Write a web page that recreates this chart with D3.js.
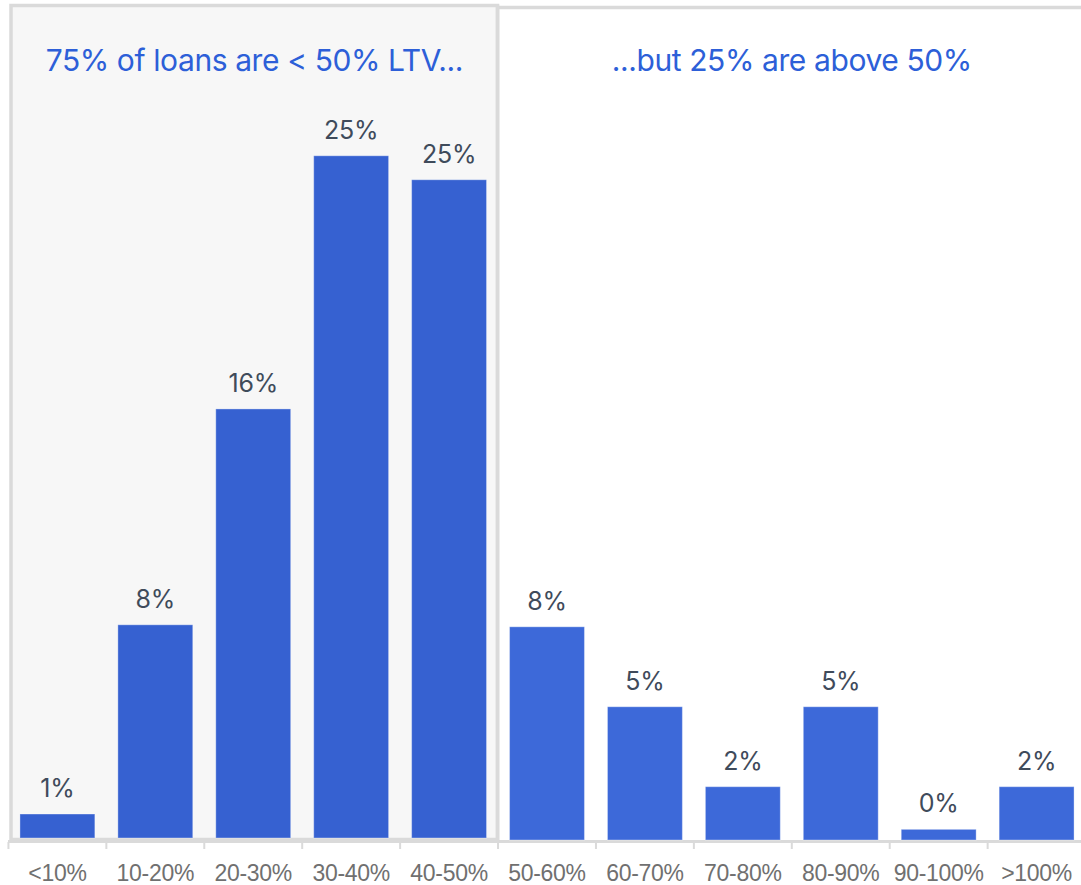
<!DOCTYPE html>
<html>
<head>
<meta charset="utf-8">
<script src="https://cdn.jsdelivr.net/npm/d3@7"></script>
<style>
  html, body { margin: 0; padding: 0; background: #ffffff; }
  svg { display: block; }
</style>
</head>
<body>
<svg id="chart" width="1081" height="885"></svg>
<script>
// ---- Data ----
const categories = ["<10%", "10-20%", "20-30%", "30-40%", "40-50%", "50-60%", "60-70%", "70-80%", "80-90%", "90-100%", ">100%"];
const values = [0.9, 8.0, 16.1, 25.6, 24.7, 8.0, 5.0, 2.0, 5.0, 0.4, 2.0];
const valueLabels = ["1%", "8%", "16%", "25%", "25%", "8%", "5%", "2%", "5%", "0%", "2%"];
const groups = ["low", "low", "low", "low", "low", "high", "high", "high", "high", "high", "high"];
const panelTitles = ["75% of loans are < 50% LTV...", "...but 25% are above 50%"];

// ---- Layout ----
const W = 1081, H = 885;
const svg = d3.select("#chart");

const x = d3.scaleBand()
  .domain(categories)
  .range([8, 1086])
  .paddingInner(0.235)
  .paddingOuter(0.122);

const step = x.step();
const boundary = c => x(c) - (step - x.bandwidth()) / 2;

const baseY = { low: 838, high: 840 };
const pxPerPct = 26.65;
const yLow = d3.scaleLinear().domain([0, 30]).range([baseY.low, baseY.low - 30 * pxPerPct]);
const yHigh = d3.scaleLinear().domain([0, 30]).range([baseY.high, baseY.high - 30 * pxPerPct]);
const yFor = g => (g === "low" ? yLow : yHigh);

const colors = { low: "#3661d1", high: "#3d69d9" };
const borderColor = "#dadada";

// split position between panels
const splitX = boundary(categories[groups.indexOf("high")]) - 0.5;

// Left panel (shaded)
svg.append("rect")
  .attr("x", 11).attr("y", 5.5)
  .attr("width", splitX - 11).attr("height", 839.5 - 5.5)
  .attr("fill", "#f7f7f7")
  .attr("stroke", borderColor)
  .attr("stroke-width", 3.5);

// Right panel top line
svg.append("line")
  .attr("x1", splitX).attr("x2", W)
  .attr("y1", 7.5).attr("y2", 7.5)
  .attr("stroke", borderColor).attr("stroke-width", 3.5);

// Axis baseline
svg.append("line")
  .attr("x1", 8).attr("x2", W)
  .attr("y1", 841.5).attr("y2", 841.5)
  .attr("stroke", borderColor).attr("stroke-width", 3);

// redraw divider on top of axis
svg.append("line")
  .attr("x1", splitX).attr("x2", splitX)
  .attr("y1", 5.5).attr("y2", 843)
  .attr("stroke", borderColor).attr("stroke-width", 3.5);

// Ticks at category boundaries
svg.append("g").selectAll("line")
  .data(categories)
  .join("line")
  .attr("x1", c => boundary(c)).attr("x2", c => boundary(c))
  .attr("y1", 842).attr("y2", 849)
  .attr("stroke", borderColor).attr("stroke-width", 2);

// Bars
const data = categories.map((c, i) => ({ c, v: values[i], label: valueLabels[i], g: groups[i] }));

svg.append("g").selectAll("rect")
  .data(data)
  .join("rect")
  .attr("x", d => x(d.c))
  .attr("width", x.bandwidth())
  .attr("y", d => yFor(d.g)(d.v))
  .attr("height", d => yFor(d.g)(0) - yFor(d.g)(d.v))
  .attr("fill", d => colors[d.g])
  .attr("stroke", "rgba(255,255,255,0.35)")
  .attr("stroke-width", 1);

// Value labels
svg.append("g").selectAll("text")
  .data(data)
  .join("text")
  .attr("x", d => x(d.c) + x.bandwidth() / 2)
  .attr("y", d => yFor(d.g)(d.v) - 17)
  .attr("text-anchor", "middle")
  .attr("font-family", "Inter, 'Noto Sans', sans-serif")
  .attr("font-size", 25)
  .attr("letter-spacing", -0.3)
  .attr("fill", "#3f4b5b")
  .text(d => d.label);

// Axis category labels
svg.append("g").selectAll("text")
  .data(categories)
  .join("text")
  .attr("x", c => x(c) + x.bandwidth() / 2)
  .attr("y", 881)
  .attr("text-anchor", "middle")
  .attr("font-family", "'Liberation Sans', Arial, sans-serif")
  .attr("font-size", 23)
  .attr("letter-spacing", -0.3)
  .attr("fill", "#707070")
  .text(c => c);

// Panel titles
const titleX = [(11 + splitX) / 2, (splitX + 1086) / 2];
svg.append("g").selectAll("text")
  .data(panelTitles)
  .join("text")
  .attr("x", (d, i) => titleX[i])
  .attr("y", 71)
  .attr("text-anchor", "middle")
  .attr("font-family", "Inter, 'Noto Sans', sans-serif")
  .attr("font-size", 30)
  .attr("letter-spacing", -0.4)
  .attr("fill", "#2d5fd8")
  .text(d => d);
</script>
</body>
</html>
